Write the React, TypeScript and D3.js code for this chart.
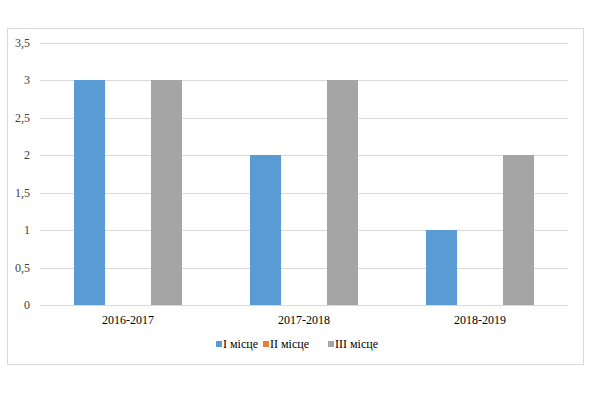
import React, { useEffect, useRef } from 'react';
import * as d3 from 'd3';

const categories = ['2016-2017', '2017-2018', '2018-2019'];
const seriesNames = ['І місце', 'ІІ місце', 'ІІІ місце'];
const place1 = [3, 2, 1];
const place2 = [0, 0, 0];
const place3 = [3, 3, 2];
const yTicks = [0, 0.5, 1, 1.5, 2, 2.5, 3, 3.5];
const colors = ['#5b9bd5', '#ed7d31', '#a5a5a5'];

function BarChart({ width = 607, height = 394 }) {
  const ref = useRef<SVGSVGElement>(null);

  useEffect(() => {
    const svg = d3.select(ref.current);
    svg.selectAll('*').remove();

    const font = 'Liberation Serif, serif';
    const values = [place1, place2, place3];

    // outer frame
    svg.append('rect')
      .attr('x', 7.5).attr('y', 28.5)
      .attr('width', 576).attr('height', 336)
      .attr('fill', '#fff').attr('stroke', '#d9d9d9');

    const left = 40, right = 568, top = 42.5, bottom = 305;

    const x0 = d3.scaleBand().domain(categories).range([left, right]).padding(0);
    const y = d3.scaleLinear().domain([0, 3.5]).range([bottom, top]);
    const slot = 38.5;
    const x1 = d3.scaleBand().domain(seriesNames)
      .range([-slot * 1.5, slot * 1.5])
      .paddingInner(0.195).paddingOuter(0.0975);

    // grid
    svg.append('g').selectAll('line').data(yTicks).enter().append('line')
      .attr('x1', left).attr('x2', right)
      .attr('y1', d => Math.round(y(d)) + 0.5).attr('y2', d => Math.round(y(d)) + 0.5)
      .attr('stroke', '#d9d9d9').attr('stroke-width', 1);

    // y labels
    svg.append('g').selectAll('text').data(yTicks).enter().append('text')
      .attr('x', 30).attr('y', d => y(d))
      .attr('dy', '0.35em')
      .attr('text-anchor', 'end')
      .attr('font-family', font).attr('font-size', 12).attr('fill', '#404040')
      .text(d => String(d).replace('.', ','));

    // bars
    const g = svg.append('g');
    seriesNames.forEach((s, si) => {
      g.selectAll(`rect.s${si}`).data(values[si]).enter().append('rect')
        .attr('class', `s${si}`)
        .attr('x', (d, i) => x0(categories[i])! + x0.bandwidth() / 2 + x1(s)!)
        .attr('width', x1.bandwidth())
        .attr('y', d => y(d))
        .attr('height', d => y(0) - y(d))
        .attr('fill', colors[si]);
    });

    // x labels
    svg.append('g').selectAll('text').data(categories).enter().append('text')
      .attr('x', d => x0(d)! + x0.bandwidth() / 2)
      .attr('y', 324)
      .attr('text-anchor', 'middle')
      .attr('font-family', font).attr('font-size', 12).attr('fill', '#000')
      .text(d => d);

    // legend
    const legendX = [216, 263, 328];
    const legend = svg.append('g');
    seriesNames.forEach((s, i) => {
      legend.append('rect')
        .attr('x', legendX[i]).attr('y', 341)
        .attr('width', 6).attr('height', 6)
        .attr('fill', colors[i]);
      legend.append('text')
        .attr('x', legendX[i] + 7).attr('y', 348)
        .attr('font-family', font).attr('font-size', 12).attr('fill', '#000')
        .text(s);
    });
  }, []);

  return (
    <svg ref={ref} width={width} height={height}
      style={{ position: 'absolute', left: 0, top: 0, background: '#fff' }}></svg>
  );
}

export default function App() {
  return <BarChart />;
}
